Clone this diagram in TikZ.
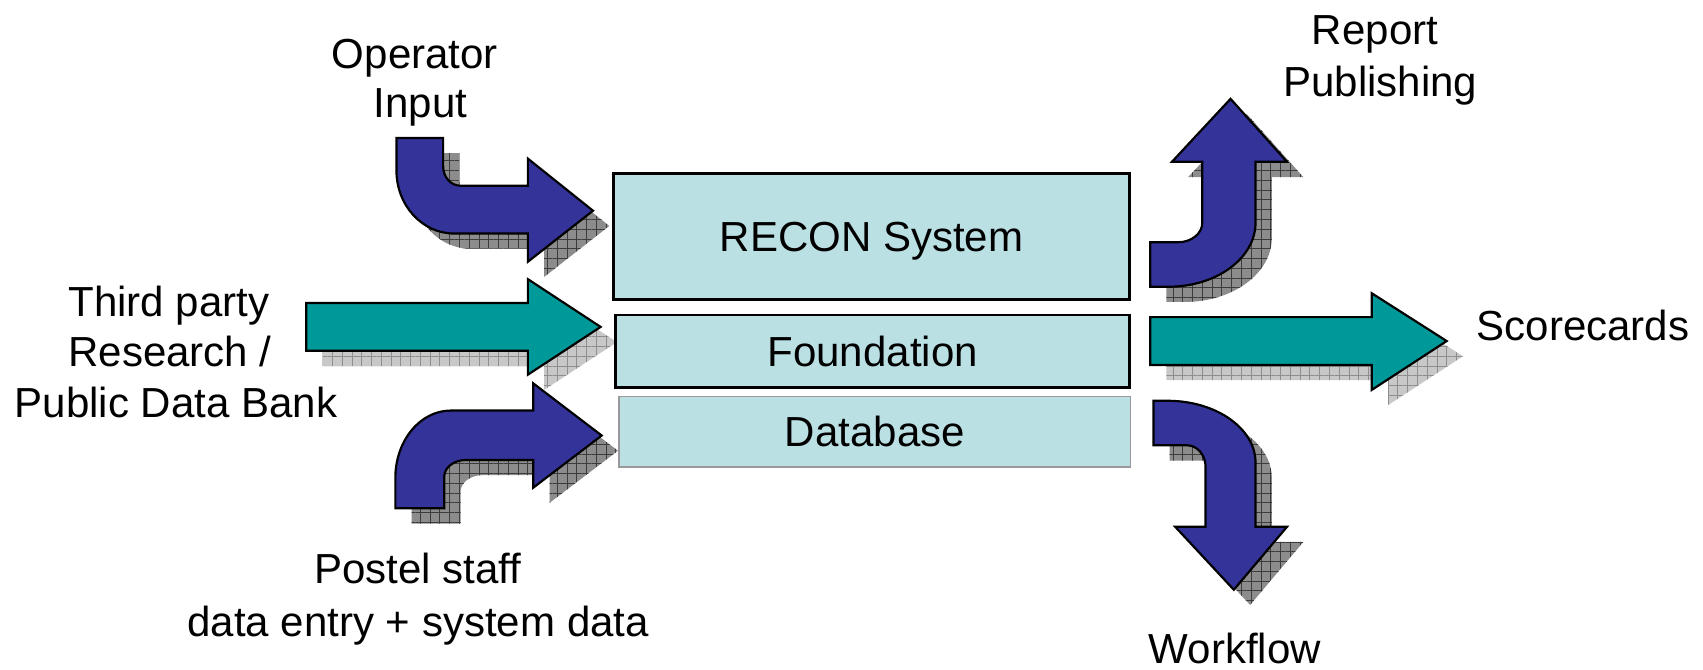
\documentclass[tikz,border=0pt]{standalone}
\usepackage{fontspec}
\setmainfont{Liberation Sans}
\usetikzlibrary{patterns.meta}
\definecolor{arrblue}{HTML}{333399}
\definecolor{arrteal}{HTML}{009999}
\definecolor{boxfill}{HTML}{BBE0E3}
\definecolor{shdark}{HTML}{8C8C8C}
\definecolor{shdarkline}{HTML}{3C3C3C}
\definecolor{shlight}{HTML}{C8C8C8}
\definecolor{shlightline}{HTML}{8E8E8E}
\begin{document}
\begin{tikzpicture}[x=1pt,y=-1pt,
  font=\fontsize{38.7pt}{46pt}\selectfont,
  lbl/.style={inner sep=0pt, text height=27.7pt, text depth=0pt},
  layerbox/.style={draw=black, line width=2.5pt, fill=boxfill, inner sep=0pt, text height=27.7pt, text depth=0pt},
  blockarrow/.style={draw=black, line width=2pt, line join=miter},
  shadowdark/.style={shift={(15,14)}, fill=shdark, postaction={pattern={Hatch[angle=0,distance=9pt,line width=0.7pt]}, pattern color=shdarkline}},
  shadowlight/.style={shift={(15,14)}, fill=shlight, postaction={pattern={Hatch[angle=0,distance=9pt,line width=0.7pt]}, pattern color=shlightline}},
  oppath/.style={insert path={(365,127) -- (408,127) -- (408,153) .. controls (408,163) and (415,171) .. (424,171) -- (486,171) -- (486,146) -- (546,194) -- (486,241) -- (486,215) -- (418,215) .. controls (388.7,215) and (365,189) .. (365,157) -- cycle}},
  tppath/.style={insert path={(282,279) -- (486,279) -- (486,257) -- (553,301) -- (486,345) -- (486,323) -- (282,323) -- cycle}},
  pspath/.style={insert path={(364,468) -- (364,440) .. controls (364,405.8) and (386.8,378) .. (415,378) -- (491,378) -- (491,353) -- (554,401) -- (491,449) -- (491,423.5) -- (429,423.5) .. controls (418,423.5) and (409,430.4) .. (409,439) -- (409,468) -- cycle}},
  rppath/.style={insert path={(1059,223) -- (1085,223) .. controls (1097,223) and (1107,215) .. (1107,205) -- (1107,149) -- (1079,149) -- (1133,91) -- (1185,149) -- (1156,149) -- (1156,205) .. controls (1156,237.6) and (1120.2,264) .. (1076,264) -- (1059,264) -- cycle}},
  scpath/.style={insert path={(1059,292) -- (1263,292) -- (1263,270) -- (1332,314) -- (1263,359) -- (1263,336) -- (1059,336) -- cycle}},
  wfpath/.style={insert path={(1062,369) -- (1075,369) .. controls (1119.7,369) and (1156,394.5) .. (1156,426) -- (1156,485) -- (1185,485) -- (1136,543) -- (1082,485) -- (1110,485) -- (1110,430) .. controls (1110,419) and (1102.4,410) .. (1093,410) -- (1062,410) -- cycle}}
]
\useasboundingbox (0,0) rectangle (1568,616);
% shadows
\path[shadowdark, oppath];
\path[shadowlight, tppath];
\path[shadowdark, pspath];
\path[shadowdark, rppath];
\path[shadowlight, scpath];
\path[shadowdark, wfpath];
% arrows
\path[blockarrow, fill=arrblue, oppath];
\path[blockarrow, fill=arrteal, tppath];
\path[blockarrow, fill=arrblue, pspath];
\path[blockarrow, fill=arrblue, rppath];
\path[blockarrow, fill=arrteal, scpath];
\path[blockarrow, fill=arrblue, wfpath];
% layer boxes
\node[layerbox, minimum width=475pt, minimum height=116pt] (recon) at (802.5,218) {RECON System};
\node[layerbox, minimum width=473pt, minimum height=67pt] (found) at (803.5,323.5) {Foundation};
\node[layerbox, draw=gray!80, line width=1.5pt, minimum width=471pt, minimum height=65pt] (db) at (805.5,397.5) {Database};
% labels
\node[lbl] (op1) at (382,49) {Operator};
\node[lbl] (op2) at (387,94) {Input};
\node[lbl] (tp1) at (155.5,278) {Third party};
\node[lbl] (tp2) at (156.5,323.5) {Research /};
\node[lbl] (tp3) at (162,370.6) {Public Data Bank};
\node[lbl] (ps1) at (384.5,523.5) {Postel staff};
\node[lbl] (ps2) at (385,572) {data entry + system data};
\node[lbl] (rp1) at (1266,27) {Report};
\node[lbl] (rp2) at (1271,75) {Publishing};
\node[lbl] (sc) at (1457.5,300) {Scorecards};
\node[lbl] (wf) at (1137,597) {Workflow};
\end{tikzpicture}
\end{document}
